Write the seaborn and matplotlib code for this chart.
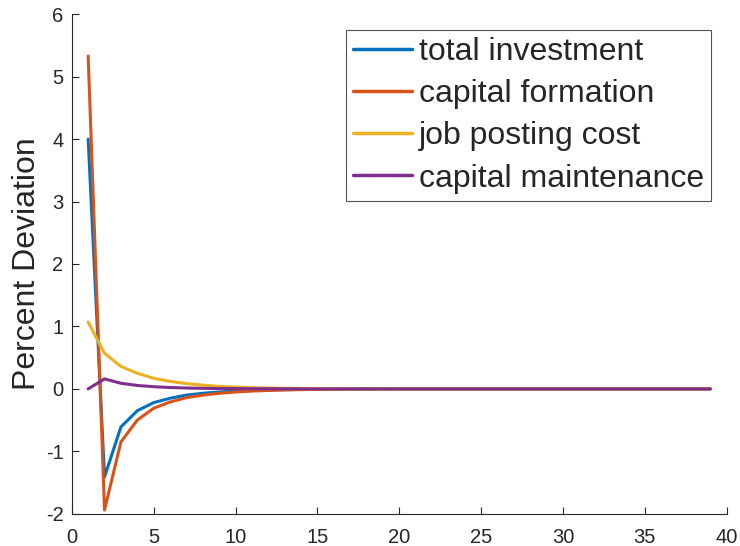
import seaborn as sns
import matplotlib.pyplot as plt
import pandas as pd

periods = list(range(1, 40))

total_investment = [4.00, -1.41, -0.61, -0.35, -0.22, -0.15, -0.10, -0.07, -0.05, -0.035,
                    -0.025, -0.017, -0.012, -0.008, -0.005, -0.003, -0.002, -0.001, -0.001, 0.0,
                    0.0, 0.0, 0.0, 0.0, 0.0, 0.0, 0.0, 0.0, 0.0, 0.0,
                    0.0, 0.0, 0.0, 0.0, 0.0, 0.0, 0.0, 0.0, 0.0]
capital_formation = [5.33, -1.94, -0.85, -0.50, -0.31, -0.21, -0.14, -0.10, -0.07, -0.05,
                     -0.035, -0.025, -0.017, -0.012, -0.008, -0.005, -0.003, -0.002, -0.001, 0.0,
                     0.0, 0.0, 0.0, 0.0, 0.0, 0.0, 0.0, 0.0, 0.0, 0.0,
                     0.0, 0.0, 0.0, 0.0, 0.0, 0.0, 0.0, 0.0, 0.0]
job_posting_cost = [1.07, 0.57, 0.36, 0.25, 0.17, 0.12, 0.085, 0.06, 0.04, 0.03,
                    0.02, 0.014, 0.01, 0.007, 0.005, 0.003, 0.002, 0.001, 0.001, 0.0,
                    0.0, 0.0, 0.0, 0.0, 0.0, 0.0, 0.0, 0.0, 0.0, 0.0,
                    0.0, 0.0, 0.0, 0.0, 0.0, 0.0, 0.0, 0.0, 0.0]
capital_maintenance = [0.0, 0.16, 0.09, 0.055, 0.035, 0.022, 0.014, 0.009, 0.006, 0.004,
                       0.003, 0.002, 0.001, 0.001, 0.0, 0.0, 0.0, 0.0, 0.0, 0.0,
                       0.0, 0.0, 0.0, 0.0, 0.0, 0.0, 0.0, 0.0, 0.0, 0.0,
                       0.0, 0.0, 0.0, 0.0, 0.0, 0.0, 0.0, 0.0, 0.0]

series_names = ['total investment', 'capital formation', 'job posting cost', 'capital maintenance']
colors = ['#0072BD', '#D95319', '#EDB120', '#7E2F8E']

df = pd.DataFrame({
    'period': periods * 4,
    'value': total_investment + capital_formation + job_posting_cost + capital_maintenance,
    'series': [n for n in series_names for _ in periods],
})

sns.set_style('white')
plt.rcParams['font.family'] = ['Liberation Sans', 'DejaVu Sans']
plt.rcParams['axes.unicode_minus'] = False

fig = plt.figure(figsize=(7.4, 5.46), dpi=100)
ax = fig.add_axes([0.097, 0.059, 0.885, 0.915])

sns.lineplot(data=df, x='period', y='value', hue='series', hue_order=series_names,
             palette=colors, linewidth=2.2, ax=ax)

ax.set_xlim(0, 40)
ax.set_ylim(-2, 6)
ax.set_xticks(range(0, 41, 5))
ax.set_yticks(range(-2, 7))
ax.set_xlabel('')
ax.set_ylabel('Percent Deviation', fontsize=23, color='#262626', labelpad=3)
ax.tick_params(direction='in', length=5, width=0.8, colors='#262626', labelsize=14.5,
               bottom=True, left=True)
ax.tick_params(axis='x', pad=10)
ax.tick_params(axis='y', pad=6)
for side in ['top', 'right']:
    ax.spines[side].set_visible(False)
for side in ['left', 'bottom']:
    ax.spines[side].set_color('#262626')
    ax.spines[side].set_linewidth(0.8)

leg = ax.legend(loc='upper right', fontsize=23, frameon=True, fancybox=False,
                handlelength=1.85, handletextpad=0.2, labelspacing=0.38,
                borderpad=0.22, borderaxespad=0.5)
leg.get_frame().set_edgecolor('#262626')
leg.get_frame().set_linewidth(0.8)
for line in leg.get_lines():
    line.set_linewidth(2.5)

fig.savefig('out.png', dpi=100)
